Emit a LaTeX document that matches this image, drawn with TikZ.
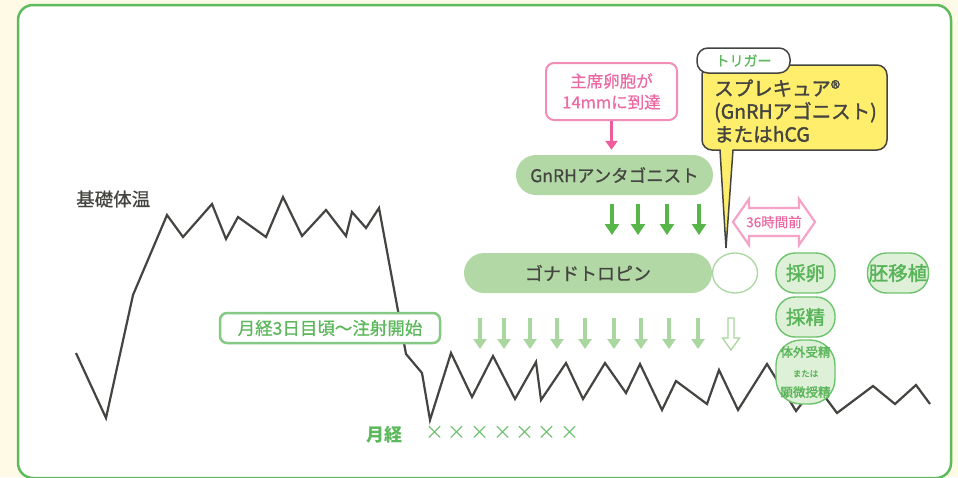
\documentclass[tikz,border=0pt]{standalone}
\usepackage{fontspec}
\setmainfont{Noto Sans CJK JP}
\newfontfamily\medfont{Noto Sans CJK JP}[FakeBold=0.7]
\newfontfamily\semifont{Noto Sans CJK JP}[FakeBold=1.6]
\usetikzlibrary{shapes.geometric,arrows.meta}
\definecolor{creambg}{HTML}{FFFAE6}
\definecolor{framegreen}{HTML}{5DBB5D}
\definecolor{darkgray}{HTML}{444440}
\definecolor{pillfill}{HTML}{B2D9A5}
\definecolor{lightarrow}{HTML}{A9D79F}
\definecolor{darkarrow}{HTML}{57B64A}
\definecolor{labelgreen}{HTML}{5CB85C}
\definecolor{labelborder}{HTML}{85C985}
\definecolor{pinkborder}{HTML}{F28DB8}
\definecolor{pinktext}{HTML}{EC6AA4}
\definecolor{pinkarrow}{HTML}{EE5C9C}
\definecolor{pinkoutline}{HTML}{F5A3C7}
\definecolor{ellfill}{HTML}{DFF0D8}
\definecolor{ellborder}{HTML}{6DC36D}
\definecolor{elltext}{HTML}{58B458}
\definecolor{calloutyellow}{HTML}{FFEE6B}
\begin{document}
\begin{tikzpicture}[x=1pt,y=-1pt,
  bbt/.style={draw=darkgray,line width=2.2,line join=miter},
  pill/.style={rectangle,rounded corners=20pt,fill=pillfill,inner sep=0,text=darkgray},
  resultell/.style={rectangle,rounded corners=19pt,draw=ellborder,line width=1.4,fill=ellfill,inner sep=0},
  resulttext/.style={inner sep=0,text=elltext,align=center,font=\semifont\fontsize{19.5}{21}\selectfont},
  garrow/.style={draw=darkarrow,line width=4,-{Triangle[length=11pt,width=14pt]}},
  larrow/.style={draw=lightarrow,line width=4,-{Triangle[length=10pt,width=13pt]}},
  pinkbox/.style={rectangle,rounded corners=8pt,draw=pinkborder,line width=2,fill=white,inner sep=0,text=pinktext,align=center,font=\medfont\fontsize{16.5}{21}\selectfont},
  greenlabel/.style={rectangle,rounded corners=7pt,draw=labelborder,line width=2.5,fill=white,inner sep=0,text=labelgreen,font=\medfont\fontsize{17.5}{20}\selectfont},
  tagbox/.style={rectangle,rounded corners=11pt,draw=darkgray,line width=1.5,fill=white,inner sep=0,text=labelgreen,font=\medfont\fontsize{14}{15}\selectfont},
  xmark/.style={text=labelgreen!90!white,font=\fontsize{19}{20}\selectfont,inner sep=0}
]
\useasboundingbox (0,0) rectangle (958,477);
% background and frame
\fill[creambg] (0,0) rectangle (958,477);
\draw[framegreen,line width=2.5,fill=white,rounded corners=15pt] (18,5) rectangle (951,478);

% basal body temperature curve
\draw[bbt] (76,353) -- (106,418) -- (133,295) -- (167,215) -- (183,237) -- (212,204)
  -- (226,239) -- (238,217) -- (266,237) -- (283,197) -- (302,236) -- (326,210)
  -- (346,236) -- (352,212) -- (366,228) -- (379,208) -- (406,354) -- (422,373)
  -- (430,420) -- (451,353) -- (472,397) -- (493,356) -- (515,399) -- (536,362)
  -- (541,400) -- (566,363) -- (583,399) -- (605,363) -- (626,393) -- (640,364)
  -- (662,410) -- (676,381) -- (707,404) -- (719,370) -- (738,410) -- (767,364)
  -- (796,411) -- (816,385) -- (837,413) -- (873,386) -- (895,404) -- (916,385) -- (930,404);

\node[anchor=west,text=darkgray,font=\medfont\fontsize{18.5}{20}\selectfont,inner sep=0] (bbtlabel) at (76,199) {基礎体温};

% start label
\node[greenlabel,minimum width=220,minimum height=30] (start) at (330,328) {月経3日目頃〜注射開始};

% pink box and arrow
\node[pinkbox,minimum width=131,minimum height=57] (follicle) at (611.5,91.5) {主席卵胞が\\14mmに到達};
\node[pill,minimum width=197,minimum height=40,font=\medfont\fontsize{17.5}{20}\selectfont] (antag) at (614.5,175) {GnRHアンタゴニスト};
\draw[pinkarrow,line width=3.5,-{Triangle[length=9pt,width=12pt]},shorten >=5pt] (follicle.south) -- (follicle.south |- antag.north);

% dark green arrows
\foreach \i/\x in {1/612,2/638,3/667,4/699}{
  \coordinate (ga\i s) at (\x,204);
  \coordinate (ga\i e) at (\x,235);
  \draw[garrow] (ga\i s) -- (ga\i e);
}

% gonadotropin pill and empty ellipse
\node[pill,minimum width=248,minimum height=40,font=\medfont\fontsize{18}{20}\selectfont] (gonado) at (588,273) {ゴナドトロピン};
\node[ellipse,draw=lightarrow,line width=1.3,fill=white,minimum width=45,minimum height=40,inner sep=0] (trigell) at (735,273) {};

% light green arrows
\foreach \i/\x in {1/480,2/504,3/530,4/557,5/585,6/614,7/641,8/669,9/698}{
  \coordinate (la\i s) at (\x,318);
  \coordinate (la\i e) at (\x,349);
  \draw[larrow] (la\i s) -- (la\i e);
}
\draw[lightarrow,line width=1.3,fill=white] (728,318) -- (734,318) -- (734,338) -- (739.5,338)
  -- (731,350) -- (722.5,338) -- (728,338) -- cycle;

% callout
\draw[fill=calloutyellow,draw=darkgray,line width=1.5] (726,248) -- (733,150) [rounded corners=10pt] -- (887,150) -- (887,65) -- (702,65) -- (702,150) [sharp corners] -- (720,150) -- cycle;
\node[tagbox,minimum width=93,minimum height=25] (trigger) at (743.5,60.5) {トリガー};
\node[anchor=west,align=left,text=darkgray,font=\semifont\fontsize{19.5}{23}\selectfont,inner sep=0] (calltext) at (714,111) {スプレキュア®\\(GnRHアゴニスト)\\またはhCG};

% 36 hours double arrow
\draw[pinkoutline,line width=2.2,fill=white,line join=miter] (733,222) -- (749,199) -- (749,208) -- (799,208)
  -- (799,199) -- (815,222) -- (799,245) -- (799,236) -- (749,236) -- (749,245) -- cycle;
\node[text=pinktext,font=\medfont\fontsize{13.5}{15}\selectfont,inner sep=0] (hours) at (774,222) {36時間前};

% result shapes
\node[resultell,minimum width=59,minimum height=40] (egg) at (805.5,273) {};
\node[resulttext] (eggtext) at (egg) {採卵};
\node[resultell,minimum width=61,minimum height=40] (transfer) at (898,273) {};
\node[resulttext] (transfertext) at (transfer) {胚移植};
\node[resultell,minimum width=59,minimum height=40] (sperm) at (805.5,317) {};
\node[resulttext] (spermtext) at (sperm) {採精};
\node[resultell,rounded corners=25pt,minimum width=59,minimum height=64] (ivf) at (805.5,372) {};
\node[resulttext] (ivftext) at (ivf) {{\fontsize{12.5}{14}\selectfont 体外受精}\\[-1pt]{\fontsize{8.5}{10}\selectfont または}\\[-1pt]{\fontsize{12.5}{14}\selectfont 顕微授精}};

% menstruation
\node[anchor=west,text=labelgreen,font=\bfseries\fontsize{18}{20}\selectfont,inner sep=0] (mens) at (366,435) {月経};
\foreach \i/\x in {1/435,2/457,3/480,4/503,5/525,6/547,7/570}{
  \node[xmark] (x\i) at (\x,433) {×};
}
\end{tikzpicture}
\end{document}
